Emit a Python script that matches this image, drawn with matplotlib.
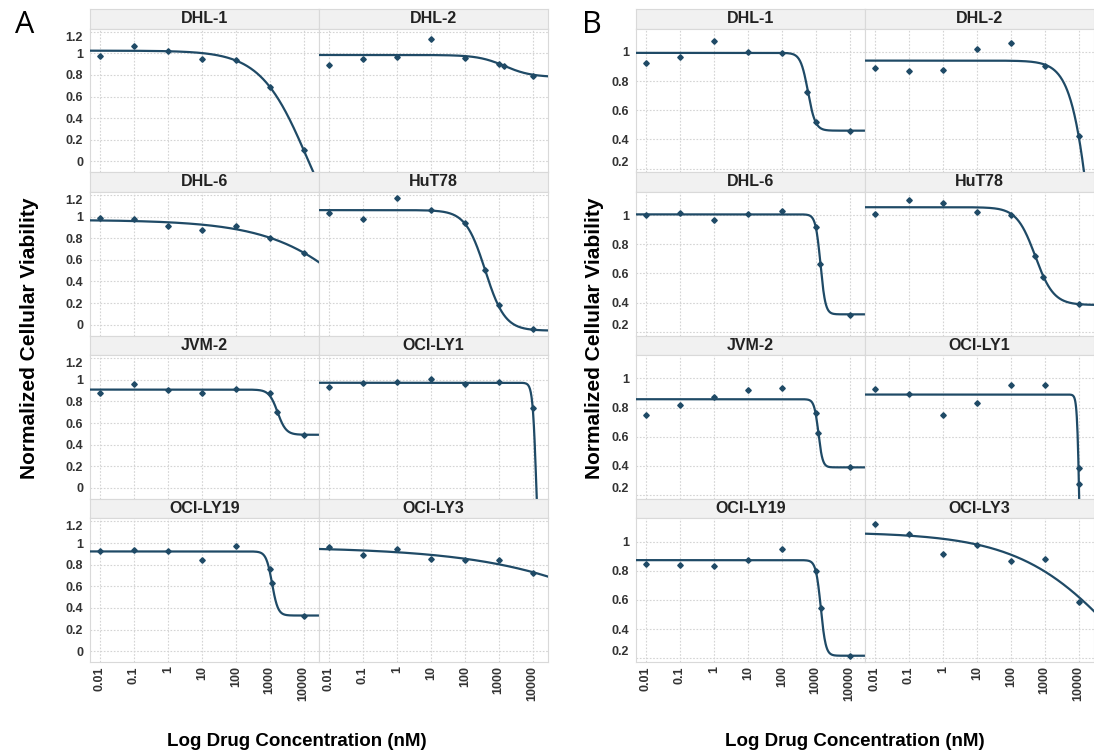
import numpy as np
import matplotlib
matplotlib.use('Agg')
import matplotlib.pyplot as plt

plt.rcParams['font.family'] = ['Liberation Sans', 'DejaVu Sans']

# ---------------- data ----------------
cell_lines = ['DHL-1', 'DHL-2', 'DHL-6', 'HuT78', 'JVM-2', 'OCI-LY1', 'OCI-LY19', 'OCI-LY3']
dose_ticks = [0.01, 0.1, 1, 10, 100, 1000, 10000]
dose_tick_labels = ['0.01', '0.1', '1', '10', '100', '1000', '10000']
conc_std = [0.01, 0.1, 1, 10, 100, 1000, 10000]

a_yticks = [0, 0.2, 0.4, 0.6, 0.8, 1.0, 1.2]
a_ytick_labels = ['0', '0.2', '0.4', '0.6', '0.8', '1', '1.2']
b_yticks = [0.2, 0.4, 0.6, 0.8, 1.0]
b_ytick_labels = ['0.2', '0.4', '0.6', '0.8', '1']

# Panel A: measured viability (conc in nM) and 4PL fit [top, bottom, EC50, hill]
A_DHL1_conc = conc_std
A_DHL1_via = [0.98, 1.065, 1.02, 0.95, 0.935, 0.69, 0.105]
A_DHL1_fit = [1.025, -1.0, 13400, 0.625]

A_DHL2_conc = [0.01, 0.1, 1, 10, 100, 1000, 1450, 10000]
A_DHL2_via = [0.89, 0.945, 0.97, 1.135, 0.955, 0.90, 0.88, 0.795]
A_DHL2_fit = [0.985, 0.78, 1500, 1.1]

A_DHL6_conc = conc_std
A_DHL6_via = [0.985, 0.975, 0.913, 0.879, 0.913, 0.805, 0.663]
A_DHL6_fit = [0.97, -1.0, 2.9e6, 0.3]

A_HUT78_conc = [0.01, 0.1, 1, 10, 100, 400, 1000, 10000]
A_HUT78_via = [1.03, 0.975, 1.175, 1.06, 0.94, 0.503, 0.184, -0.043]
A_HUT78_fit = [1.06, -0.055, 400, 1.5]

A_JVM2_conc = [0.01, 0.1, 1, 10, 100, 1000, 1650, 10000]
A_JVM2_via = [0.88, 0.96, 0.91, 0.88, 0.916, 0.876, 0.70, 0.49]
A_JVM2_fit = [0.91, 0.492, 1700, 3.5]

A_OCILY1_conc = conc_std
A_OCILY1_via = [0.935, 0.975, 0.98, 1.01, 0.96, 0.98, 0.74]
A_OCILY1_fit = [0.973, -1.0, 12850, 8.0]

A_OCILY19_conc = [0.01, 0.1, 1, 10, 100, 1000, 1150, 10000]
A_OCILY19_via = [0.923, 0.938, 0.926, 0.843, 0.969, 0.762, 0.627, 0.33]
A_OCILY19_fit = [0.923, 0.33, 1170, 5.0]

A_OCILY3_conc = conc_std
A_OCILY3_via = [0.966, 0.892, 0.944, 0.855, 0.843, 0.843, 0.725]
A_OCILY3_fit = [0.965, -1.0, 6.8e8, 0.18]

# Panel B
B_DHL1_conc = [0.01, 0.1, 1, 10, 100, 560, 1000, 10000]
B_DHL1_via = [0.927, 0.966, 1.073, 1.0, 0.993, 0.725, 0.517, 0.455]
B_DHL1_fit = [0.993, 0.46, 590, 4.0]

B_DHL2_conc = conc_std
B_DHL2_via = [0.886, 0.867, 0.874, 1.02, 1.062, 0.904, 0.42]
B_DHL2_fit = [0.94, -2.0, 31000, 1.36]

B_DHL6_conc = [0.01, 0.1, 1, 10, 100, 1000, 1350, 10000]
B_DHL6_via = [1.0, 1.014, 0.966, 1.007, 1.027, 0.921, 0.663, 0.316]
B_DHL6_fit = [1.005, 0.32, 1380, 6.0]

B_HUT78_conc = [0.01, 0.1, 1, 10, 100, 500, 900, 10000]
B_HUT78_via = [1.007, 1.104, 1.086, 1.02, 1.0, 0.717, 0.577, 0.391]
B_HUT78_fit = [1.054, 0.384, 525, 1.6]

B_JVM2_conc = [0.01, 0.1, 1, 10, 100, 1000, 1200, 10000]
B_JVM2_via = [0.75, 0.816, 0.87, 0.923, 0.936, 0.764, 0.623, 0.391]
B_JVM2_fit = [0.857, 0.39, 1200, 7.0]

B_OCILY1_conc = [0.01, 0.1, 1, 10, 100, 1000, 10000, 10000]
B_OCILY1_via = [0.927, 0.895, 0.75, 0.834, 0.955, 0.955, 0.384, 0.277]
B_OCILY1_fit = [0.889, -1.0, 10750, 12.0]

B_OCILY19_conc = [0.01, 0.1, 1, 10, 100, 1000, 1400, 10000]
B_OCILY19_via = [0.848, 0.843, 0.834, 0.875, 0.948, 0.80, 0.545, 0.216]
B_OCILY19_fit = [0.873, 0.218, 1410, 6.0]

B_OCILY3_conc = conc_std
B_OCILY3_via = [1.118, 1.052, 0.912, 0.98, 0.87, 0.88, 0.588]
B_OCILY3_fit = [1.065, -0.5, 272000, 0.28]

panel_a = [(A_DHL1_conc, A_DHL1_via, A_DHL1_fit), (A_DHL2_conc, A_DHL2_via, A_DHL2_fit),
           (A_DHL6_conc, A_DHL6_via, A_DHL6_fit), (A_HUT78_conc, A_HUT78_via, A_HUT78_fit),
           (A_JVM2_conc, A_JVM2_via, A_JVM2_fit), (A_OCILY1_conc, A_OCILY1_via, A_OCILY1_fit),
           (A_OCILY19_conc, A_OCILY19_via, A_OCILY19_fit), (A_OCILY3_conc, A_OCILY3_via, A_OCILY3_fit)]
panel_b = [(B_DHL1_conc, B_DHL1_via, B_DHL1_fit), (B_DHL2_conc, B_DHL2_via, B_DHL2_fit),
           (B_DHL6_conc, B_DHL6_via, B_DHL6_fit), (B_HUT78_conc, B_HUT78_via, B_HUT78_fit),
           (B_JVM2_conc, B_JVM2_via, B_JVM2_fit), (B_OCILY1_conc, B_OCILY1_via, B_OCILY1_fit),
           (B_OCILY19_conc, B_OCILY19_via, B_OCILY19_fit), (B_OCILY3_conc, B_OCILY3_via, B_OCILY3_fit)]

# ---------------- style ----------------
W, H = 1094, 753
LINE = '#1f4a66'
GRID = '#d4d4d4'
EDGE = '#d9d9d9'
STRIP = '#f1f1f1'
TXT = '#222222'
XLIM = (10 ** -2.29, 10 ** 4.45)

fig = plt.figure(figsize=(W / 100, H / 100), dpi=100)


def fx(px):
    return px / W


def fy(py):
    return 1 - py / H


def four_pl(x, top, bottom, ec50, hill):
    return bottom + (top - bottom) / (1 + (x / ec50) ** hill)


def draw_panel(data, col_lefts, ylim, yticks, ylabels, top_label_shift):
    col_w = 229
    strip_h = 19.5
    row_h = 163.25
    for i, (conc, via, fit) in enumerate(data):
        r, c = divmod(i, 2)
        x0 = col_lefts[c]
        yt = 9 + row_h * r
        # strip
        sax = fig.add_axes([fx(x0), fy(yt + strip_h), col_w / W, strip_h / H])
        sax.set_facecolor(STRIP)
        sax.set_xticks([]); sax.set_yticks([])
        for s in sax.spines.values():
            s.set_color(EDGE); s.set_linewidth(0.8)
        sax.text(0.5, 0.5, cell_lines[i], ha='center', va='center', fontsize=11.5,
                 fontweight='bold', color=TXT, transform=sax.transAxes)
        # plot
        ax = fig.add_axes([fx(x0), fy(yt + row_h), col_w / W, (row_h - strip_h) / H])
        ax.set_xscale('log')
        ax.set_xlim(*XLIM)
        ax.set_ylim(*ylim)
        ax.set_xticks(dose_ticks)
        ax.xaxis.set_minor_locator(matplotlib.ticker.NullLocator())
        ax.set_yticks(yticks)
        ax.grid(True, color=GRID, linestyle=(0, (1.5, 1.5)), linewidth=0.8)
        ax.set_axisbelow(True)
        ax.tick_params(axis='y', length=0, pad=5)
        ax.tick_params(axis='x', length=0, pad=3)
        for s in ax.spines.values():
            s.set_color(EDGE); s.set_linewidth(0.8)
        if c == 0:
            ax.set_yticklabels(ylabels, fontsize=9, fontweight='bold', color='#333333')
            labs = ax.get_yticklabels()
            if top_label_shift == 'top':
                labs[-1].set_va('top')
            else:
                labs[0].set_va('bottom')
        else:
            ax.set_yticklabels([])
        if r == 3:
            ax.set_xticklabels(dose_tick_labels, rotation=90, fontsize=9,
                               fontweight='bold', color='#333333')
        else:
            ax.set_xticklabels([])
        xs = np.logspace(-2.29, 4.45, 600)
        ax.plot(xs, four_pl(xs, *fit), color=LINE, lw=1.6, zorder=3)
        ax.plot(conc, via, linestyle='none', marker='D', ms=2.8, color=LINE, zorder=4)


draw_panel(panel_a, [90, 319], (-0.10, 1.23), a_yticks, a_ytick_labels, 'top')
draw_panel(panel_b, [636, 865], (0.175, 1.16), b_yticks, b_ytick_labels, 'bottom')

# labels
fig.text(fx(25), fy(25), 'A', fontsize=22, family=['Open Sans', 'DejaVu Sans'],
         ha='center', va='center', color='black')
fig.text(fx(592), fy(25), 'B', fontsize=22, family=['Open Sans', 'DejaVu Sans'],
         ha='center', va='center', color='black')
for xc in (30, 594):
    fig.text(fx(xc), fy(338), 'Normalized Cellular Viability', rotation=90, fontsize=15,
             fontweight='bold', ha='center', va='center', color='black')
for xc in (297, 855):
    fig.text(fx(xc), fy(742), 'Log Drug Concentration (nM)', fontsize=13.5,
             fontweight='bold', ha='center', va='center', color='black')

fig.savefig('out.png', dpi=100, facecolor='white')
